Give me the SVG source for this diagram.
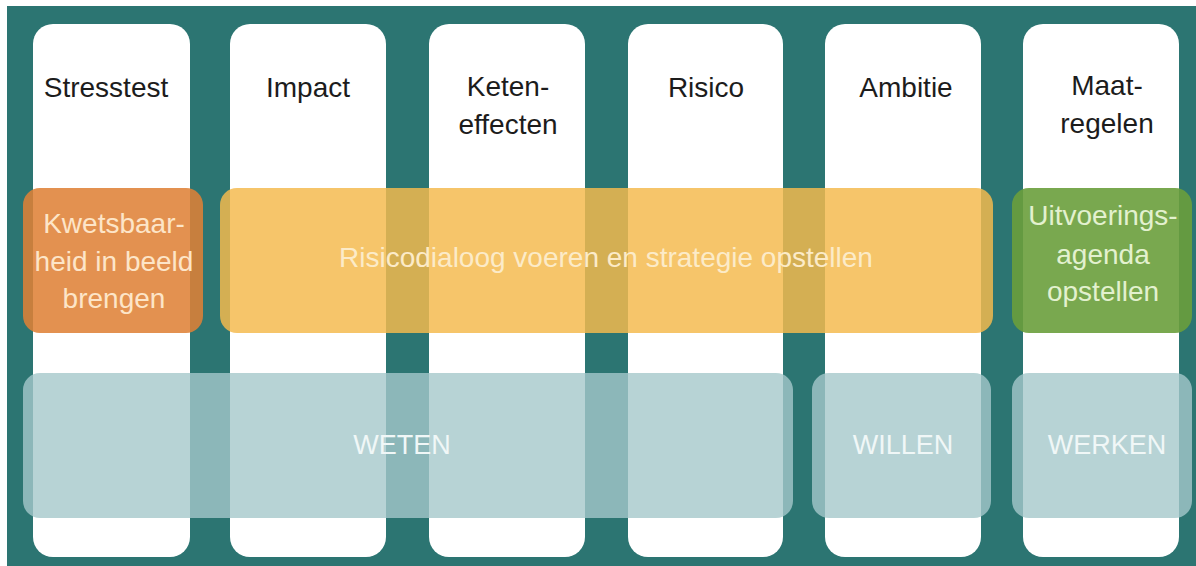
<svg xmlns="http://www.w3.org/2000/svg" width="1196" height="566" viewBox="0 0 1196 566">
  <style>
    .col { fill: #ffffff; }
    .head { font-family: "Liberation Sans", Arial, sans-serif; font-size: 28px; fill: #1c1c1c; text-anchor: middle; }
    .band { font-family: "Liberation Sans", Arial, sans-serif; font-size: 28px; text-anchor: middle; }
    .orange { fill: #df8136; fill-opacity: 0.87; }
    .yellow { fill: #f4ba4d; fill-opacity: 0.84; }
    .green { fill: #6a9e3c; fill-opacity: 0.9; }
    .phase { fill: #a5c8cb; fill-opacity: 0.8; }
    .t-orange { fill: #fde5c8; }
    .t-yellow { fill: #fcebc8; }
    .t-green { fill: #e3f1cf; }
    .t-phase { fill: #f0f7f7; font-size: 27px; }
  </style>

  <rect x="0" y="0" width="1196" height="566" fill="#ffffff"/>
  <rect x="7" y="6" width="1189" height="560" fill="#2c7572"/>

  <!-- step columns -->
  <g id="col-stresstest">
    <rect class="col" x="33" y="24" width="157" height="533" rx="20"/>
    <text class="head" x="106" y="97">Stresstest</text>
  </g>
  <g id="col-impact">
    <rect class="col" x="230" y="24" width="156" height="533" rx="20"/>
    <text class="head" x="308" y="97">Impact</text>
  </g>
  <g id="col-ketenEffecten">
    <rect class="col" x="429" y="24" width="156" height="533" rx="20"/>
    <text class="head" x="508" y="96">Keten-</text>
    <text class="head" x="508" y="134">effecten</text>
  </g>
  <g id="col-risico">
    <rect class="col" x="628" y="24" width="155" height="533" rx="20"/>
    <text class="head" x="706" y="97">Risico</text>
  </g>
  <g id="col-ambitie">
    <rect class="col" x="825" y="24" width="156" height="533" rx="20"/>
    <text class="head" x="906" y="97">Ambitie</text>
  </g>
  <g id="col-maatregelen">
    <rect class="col" x="1023" y="24" width="156" height="533" rx="20"/>
    <text class="head" x="1107" y="95">Maat-</text>
    <text class="head" x="1107" y="133">regelen</text>
  </g>

  <!-- activity bands -->
  <g id="band-kwetsbaarheid">
    <rect class="orange" x="23" y="188" width="180" height="145" rx="17"/>
    <text class="band t-orange" x="114" y="233">Kwetsbaar-</text>
    <text class="band t-orange" x="114" y="271">heid in beeld</text>
    <text class="band t-orange" x="114" y="308">brengen</text>
  </g>
  <g id="band-risicodialoog">
    <rect class="yellow" x="220" y="188" width="773" height="145" rx="17"/>
    <text class="band t-yellow" x="606" y="267" font-size="29.5">Risicodialoog voeren en strategie opstellen</text>
  </g>
  <g id="band-uitvoeringsagenda">
    <rect class="green" x="1012" y="188" width="180" height="145" rx="17"/>
    <text class="band t-green" x="1103" y="225">Uitvoerings-</text>
    <text class="band t-green" x="1103" y="264">agenda</text>
    <text class="band t-green" x="1103" y="301">opstellen</text>
  </g>

  <!-- phases -->
  <g id="phase-weten">
    <rect class="phase" x="23" y="373" width="770" height="145" rx="17"/>
    <text class="band t-phase" x="402" y="454">WETEN</text>
  </g>
  <g id="phase-willen">
    <rect class="phase" x="812" y="373" width="179" height="145" rx="17"/>
    <text class="band t-phase" x="903" y="454">WILLEN</text>
  </g>
  <g id="phase-werken">
    <rect class="phase" x="1012" y="373" width="180" height="145" rx="17"/>
    <text class="band t-phase" x="1107" y="454">WERKEN</text>
  </g>

  <g id="connectors"></g>
</svg>
